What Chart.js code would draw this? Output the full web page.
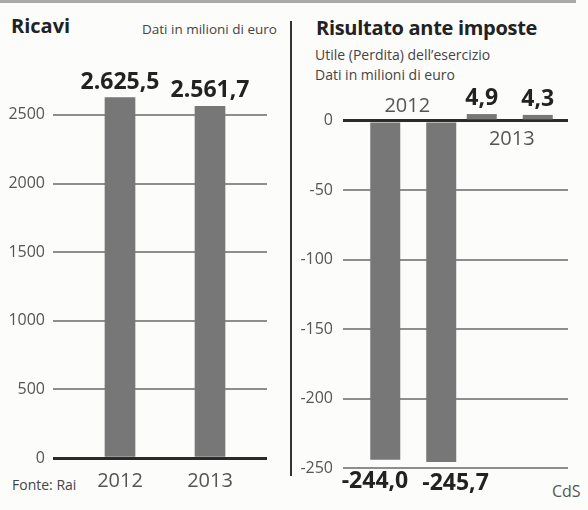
<!DOCTYPE html>
<html>
<head>
<meta charset="utf-8">
<script src="https://cdn.jsdelivr.net/npm/chart.js@4.4.1/dist/chart.umd.min.js"></script>
<style>
  body { margin: 0; background: #fcfcfb; }
  #page { position: relative; width: 588px; height: 510px; overflow: hidden; font-family: 'Open Sans', sans-serif; color: #333; }
  .txt { position: absolute; white-space: nowrap; line-height: 1; }
  .title { font-weight: bold; font-size: 20px; color: #222; }
  .note { font-size: 13.5px; color: #444; }
  canvas { position: absolute; top: 0; }
</style>
</head>
<body>
<div id="page">
  <div style="position:absolute;left:0;top:0;width:576px;height:3px;background:#aaa"></div>
  <div style="position:absolute;left:290px;top:21px;width:2px;height:455px;background:#333"></div>

  <div class="txt title" style="left:11px;top:16px">Ricavi</div>
  <div class="txt note" style="left:142px;top:23px">Dati in milioni di euro</div>

  <div class="txt title" style="left:316px;top:18px;letter-spacing:-0.3px">Risultato ante imposte</div>
  <div class="txt note" style="left:315px;top:48px;font-size:14px">Utile (Perdita) dell’esercizio</div>
  <div class="txt note" style="left:315px;top:68px;font-size:14px">Dati in milioni di euro</div>

  <div class="txt note" style="left:12px;top:478px;font-size:14px">Fonte: Rai</div>
  <div class="txt" style="left:552px;top:483px;font-size:16px;color:#555">CdS</div>

  <canvas id="ricavi" width="290" height="510" style="left:0"></canvas>
  <canvas id="risultato" width="296" height="510" style="left:292px"></canvas>
</div>

<script>
// Ricavi (milioni di euro)
const ricaviYears = ['2012', '2013'];
const ricaviValues = [2625.5, 2561.7];
const ricaviTicks = [0, 500, 1000, 1500, 2000, 2500];

// Risultato ante imposte (milioni di euro)
const risultatoYears = ['2012', '2013'];
const risultatoFirst = [-244.0, 4.9];
const risultatoSecond = [-245.7, 4.3];
const risultatoTicks = [-250, -200, -150, -100, -50, 0];

const BAR = '#777777';
const GRID = '#8e8e8e';
const ZERO = '#2b2b2b';

// 2625.5 -> "2.625,5"
function itNum(v) {
  const parts = Math.abs(v).toFixed(1).split('.');
  const int = parts[0].replace(/\B(?=(\d{3})+(?!\d))/g, '.');
  return (v < 0 ? '-' : '') + int + ',' + parts[1];
}

const gridColor = c => (c.tick && c.tick.value === 0 ? ZERO : GRID);
const gridWidth = c => (c.tick && c.tick.value === 0 ? 3 : 2);

// bold value above / below each bar; the two negative ones are pushed apart
const valueLabels = {
  id: 'valueLabels',
  afterDatasetsDraw(chart) {
    const ctx = chart.ctx;
    const many = chart.data.datasets.length > 1;
    ctx.save();
    ctx.font = 'bold 23px "Open Sans", sans-serif';
    ctx.fillStyle = '#222';
    ctx.textBaseline = 'alphabetic';
    chart.data.datasets.forEach((ds, di) => {
      chart.getDatasetMeta(di).data.forEach((bar, i) => {
        const v = ds.data[i];
        let x = bar.x;
        ctx.textAlign = 'center';
        if (v < 0 && many) {
          if (di === 0) { ctx.textAlign = 'right'; x = bar.x + bar.width / 2 + 8; }
          else { ctx.textAlign = 'left'; x = bar.x - bar.width / 2 - 4; }
        }
        const y = v >= 0 ? bar.y - 9 : bar.y + 28;
        ctx.fillText(itNum(v), x, y);
      });
    });
    ctx.restore();
  }
};

// year labels sitting on the zero line, on the side away from the bars
const yearLabels = {
  id: 'yearLabels',
  afterDatasetsDraw(chart) {
    const ctx = chart.ctx;
    const xs = chart.scales.x, ys = chart.scales.y;
    const zero = ys.getPixelForValue(0);
    ctx.save();
    ctx.font = '20px "Open Sans", sans-serif';
    ctx.fillStyle = '#555';
    ctx.textAlign = 'center';
    ctx.textBaseline = 'alphabetic';
    chart.data.labels.forEach((lab, i) => {
      const neg = chart.data.datasets[0].data[i] < 0;
      const x = xs.getPixelForValue(i);
      ctx.fillText(lab, neg ? x - 6 : x + 2, neg ? zero - 9 : zero + 24);
    });
    ctx.restore();
  }
};

function yAxis(ticks, min, max, width, padding) {
  return {
    position: 'left',
    min: min,
    max: max,
    afterBuildTicks: s => { s.ticks = ticks.map(v => ({ value: v })); },
    afterFit: s => { s.width = width; },
    border: { display: false },
    grid: { color: gridColor, lineWidth: gridWidth, tickLength: 22 },
    ticks: {
      padding: padding,
      color: '#555',
      font: { family: 'Open Sans', size: 16 },
      callback: v => String(v)
    }
  };
}

// short stubs so the grid runs a little past the bars on the right
function rightStub(ticks, min, max, len) {
  return {
    position: 'right',
    min: min,
    max: max,
    afterBuildTicks: s => { s.ticks = ticks.map(v => ({ value: v })); },
    afterFit: s => { s.width = len; },
    border: { display: false },
    grid: { drawOnChartArea: false, color: gridColor, lineWidth: gridWidth, tickLength: len },
    ticks: { display: false }
  };
}

new Chart(document.getElementById('ricavi'), {
  type: 'bar',
  data: {
    labels: ricaviYears,
    datasets: [{
      data: ricaviValues,
      backgroundColor: BAR,
      borderWidth: 0,
      barThickness: 30
    }]
  },
  options: {
    responsive: false,
    animation: false,
    layout: { padding: { top: 60, right: 23, left: 0, bottom: 0 } },
    plugins: { legend: { display: false }, tooltip: { enabled: false } },
    scales: {
      x: {
        offset: true,
        afterFit: s => { s.height = 52; },
        border: { display: false },
        grid: { display: false, drawTicks: false },
        ticks: { padding: 11, color: '#555', font: { family: 'Open Sans', size: 20 } }
      },
      y: yAxis(ricaviTicks, 0, 2900, 75, 8),
      y2: rightStub(ricaviTicks, 0, 2900, 12)
    }
  },
  plugins: [valueLabels]
});

new Chart(document.getElementById('risultato'), {
  type: 'bar',
  data: {
    labels: risultatoYears,
    datasets: [
      { data: risultatoFirst, backgroundColor: BAR, borderWidth: 0, categoryPercentage: 1.16, barPercentage: 0.536 },
      { data: risultatoSecond, backgroundColor: BAR, borderWidth: 0, categoryPercentage: 1.16, barPercentage: 0.536 }
    ]
  },
  options: {
    responsive: false,
    animation: false,
    layout: { padding: { top: 107, right: 20, left: 0, bottom: 42 } },
    plugins: { legend: { display: false }, tooltip: { enabled: false } },
    scales: {
      x: { display: false, offset: true },
      y: yAxis(risultatoTicks, -250, 10, 73, 10),
      y2: rightStub(risultatoTicks, -250, 10, 10)
    }
  },
  plugins: [valueLabels, yearLabels]
});
</script>
</body>
</html>
